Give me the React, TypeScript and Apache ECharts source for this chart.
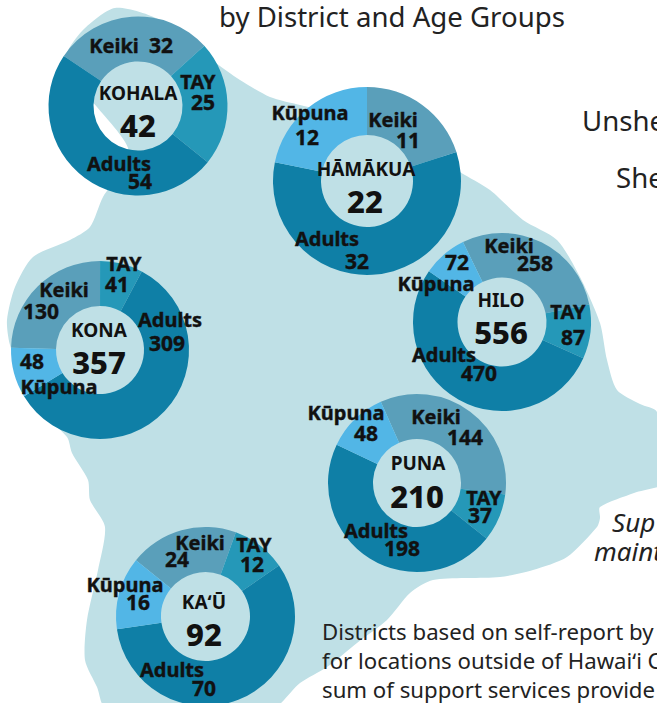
import React, { useEffect, useRef } from "react";
import * as echarts from "echarts";

const groups = ["Keiki", "TAY", "Adults", "Kūpuna"];
const districts = ["KOHALA", "HĀMĀKUA", "HILO", "KONA", "PUNA", "KAʻŪ"];
const totals = [42, 22, 556, 357, 210, 92];
const keiki = [32, 11, 258, 130, 144, 24];
const tay = [25, 0, 87, 41, 37, 12];
const adults = [54, 32, 470, 309, 198, 70];
const kupuna = [0, 12, 72, 48, 48, 16];

const colors = ["#5a9fba", "#2598b8", "#0f7fa6", "#52b6e6"];
const centers = [[138, 106], [367, 181], [502, 322], [100, 350], [417, 483], [205.5, 616.5]];
const outerR = [89.5, 94, 89, 89, 89, 89.5];
const innerR = [44.5, 46, 44.5, 44, 44, 44.5];
const startAngles = [146, 90, 116, 178.6, 114, 141];

// [name x, name y, value x, value y] per age group
const labelPos = [
  { Keiki: [114, 45, 161, 45], TAY: [198, 81, 203, 102], Adults: [119, 163, 140, 181] },
  { Keiki: [393, 119, 408, 140], Adults: [327, 238, 357, 261], "Kūpuna": [310, 112, 307, 137] },
  { Keiki: [509, 245, 535, 263], TAY: [568, 311, 573, 337], Adults: [444, 354, 479, 373], "Kūpuna": [436, 283, 457, 262] },
  { Keiki: [64, 289, 41, 311], TAY: [124, 263, 117, 284], Adults: [170, 319, 167, 343], "Kūpuna": [59, 386, 32, 361] },
  { Keiki: [436, 416, 465, 437], TAY: [484, 497, 480, 515], Adults: [376, 530, 402, 548], "Kūpuna": [346, 412, 366, 433] },
  { Keiki: [200, 542, 177, 559], TAY: [254, 544, 252, 564], Adults: [172, 669, 204, 688], "Kūpuna": [125, 584, 138, 602] },
];
const centerPos = [[138, 93, 138, 125], [366, 169, 365, 201], [501, 300, 501, 332], [99, 330, 99, 362], [418, 463, 417, 496], [204, 602, 204, 634]];

const island = [
  [103, 197], [118, 175], [128, 148], [97, 107], [70, 75], [66, 55], [83, 30], [115, 8], [160, 20], [212, 60], [240, 80], [270, 97], [300, 105],
  [400, 130], [460, 172], [490, 190], [523, 220], [557, 240], [580, 277], [600, 323], [607, 360], [617, 390], [640, 404], [657, 412], [670, 480],
  [634, 493], [600, 507], [600, 518], [597, 527], [567, 557], [533, 570], [500, 577], [433, 580], [410, 593], [387, 620], [357, 643], [327, 667], [300, 683], [270, 710],
  [107, 710], [97, 687], [85, 660], [87, 620], [98, 570], [105, 527], [90, 500], [88, 480], [72, 453], [67, 437], [30, 400], [10, 345], [7, 320], [15, 287], [33, 257], [70, 240], [90, 227],
];

const textLines = [
  { t: "by District and Age Groups", x: 219, y: 26, size: 27.6, style: "normal" },
  { t: "Unshe", x: 582, y: 130, size: 27.6, style: "normal" },
  { t: "She", x: 616, y: 187, size: 27.6, style: "normal" },
  { t: "Sup", x: 612, y: 532, size: 26, style: "italic" },
  { t: "maint", x: 594, y: 561, size: 26, style: "italic" },
  { t: "Districts based on self-report by", x: 322, y: 640, size: 22.2, style: "normal" },
  { t: "for locations outside of Hawaiʻi C", x: 322, y: 669, size: 22.2, style: "normal" },
  { t: "sum of support services provide", x: 322, y: 698, size: 22.2, style: "normal" },
];

const FONT = "'Noto Sans', sans-serif";

function pie(d: number, mode: "name" | "value") {
  const vals = [keiki[d], tay[d], adults[d], kupuna[d]];
  const data = groups
    .map((g, i) => ({ name: g, value: vals[i], itemStyle: { color: mode === "name" ? colors[i] : "transparent" } }))
    .filter((x) => x.value > 0);
  const pos = labelPos[d] as Record<string, number[]>;
  const off = mode === "name" ? 0 : 2;
  return {
    type: "pie",
    z: mode === "name" ? 2 : 3,
    silent: true,
    center: centers[d],
    radius: [innerR[d], outerR[d]],
    startAngle: startAngles[d],
    clockwise: true,
    avoidLabelOverlap: false,
    minShowLabelAngle: 0,
    data,
    labelLine: { show: false },
    label: {
      show: true,
      position: "inside",
      formatter: mode === "name" ? "{b}" : "{c}",
      fontFamily: FONT,
      fontSize: mode === "name" ? 20 : 21,
      fontWeight: 700,
      color: "#111",
      textBorderColor: "#111",
      textBorderWidth: 0.4,
    },
    labelLayout: (p: any) => {
      const q = pos[data[p.dataIndex].name];
      return { x: q[off], y: q[off + 1], align: "center", verticalAlign: "middle" };
    },
  };
}

export default function App() {
  const ref = useRef<HTMLDivElement>(null);
  useEffect(() => {
    document.body.style.margin = "0";
    const chart = echarts.init(ref.current!, undefined, { renderer: "svg" });
    const series: any[] = [];
    districts.forEach((_, d) => {
      series.push(pie(d, "name"), pie(d, "value"));
    });
    const graphic: any[] = [
      {
        type: "polygon",
        z: -1,
        silent: true,
        shape: { points: island, smooth: 0.25 },
        style: { fill: "#bfe0e6" },
      },
      ...textLines.map((l) => ({
        type: "text",
        z: 10,
        x: l.x,
        y: l.y - 0.37 * l.size,
        style: {
          text: l.t,
          fill: "#222",
          font: `${l.style} 400 ${l.size}px ${FONT}`,
          align: "left",
          verticalAlign: "middle",
        },
      })),
      ...districts.flatMap((name, d) => [
        {
          type: "text",
          z: 10,
          x: centerPos[d][0],
          y: centerPos[d][1],
          style: { text: name, fill: "#111", font: `700 19px ${FONT}`, align: "center", verticalAlign: "middle" },
        },
        {
          type: "text",
          z: 10,
          x: centerPos[d][2],
          y: centerPos[d][3],
          style: { text: String(totals[d]), fill: "#111", font: `800 31px ${FONT}`, align: "center", verticalAlign: "middle" },
        },
      ]),
    ];
    chart.setOption({ animation: false, backgroundColor: "#ffffff", series, graphic });
    return () => chart.dispose();
  }, []);
  return <div ref={ref} style={{ position: "fixed", left: 0, top: 0, width: 657, height: 703, overflow: "hidden" }} />;
}
